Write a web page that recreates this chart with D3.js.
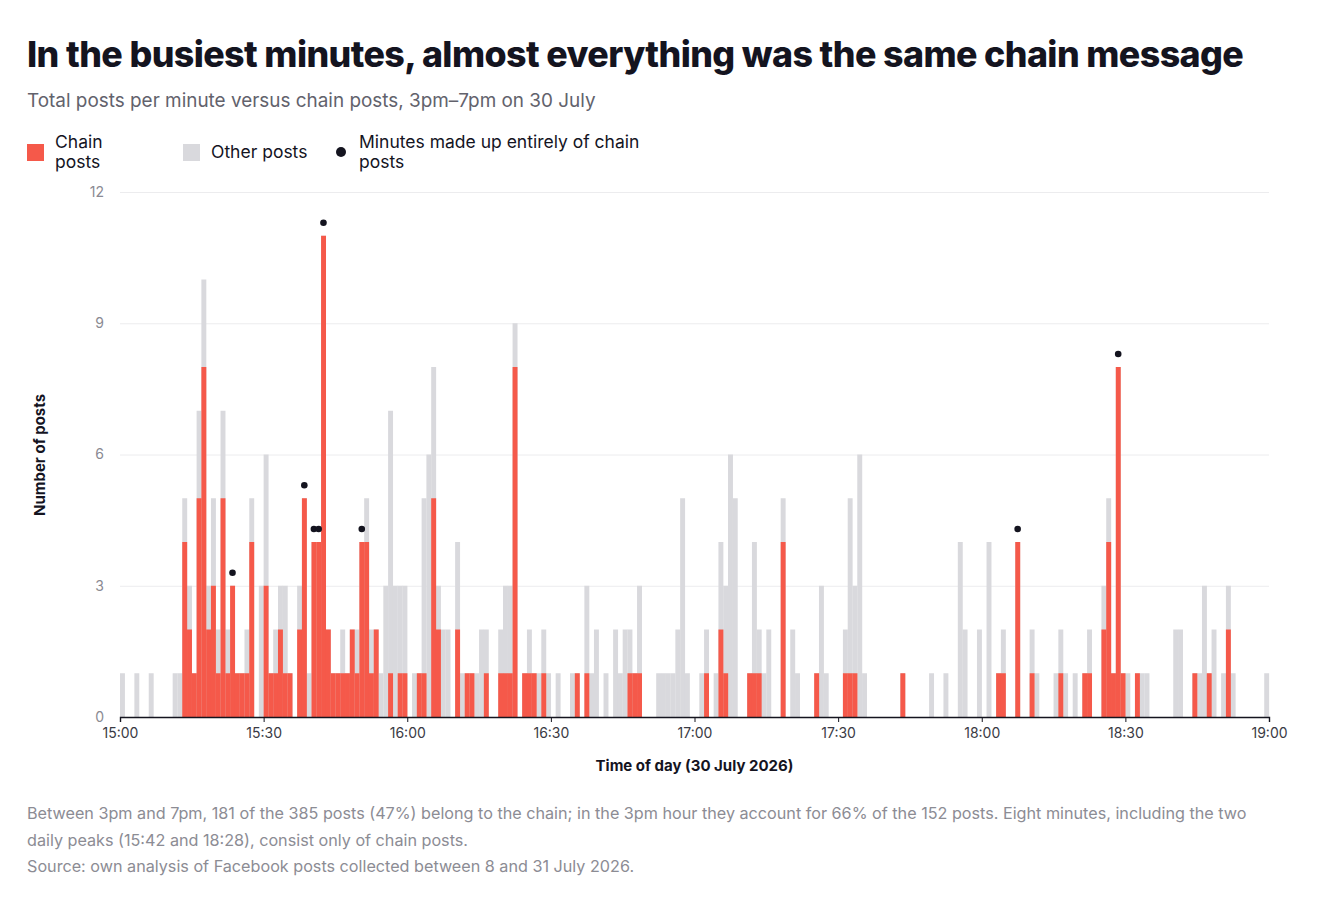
<!DOCTYPE html>
<html>
<head>
<meta charset="utf-8">
<script src="https://cdn.jsdelivr.net/npm/d3@7"></script>
<style>
  html, body { margin: 0; padding: 0; background: #fff; }
  svg { display: block; font-family: Inter, "Noto Sans", sans-serif; }
</style>
</head>
<body>
<svg id="chart" width="1318" height="898"></svg>
<script>
// one value per minute, 15:00 .. 18:59 on 30 July 2026
const START = "2026-07-30T15:00:00";
const totalPosts = [
  1, 0, 0, 1, 0, 0, 1, 0, 0, 0,   // 15:00
  0, 1, 1, 5, 3, 1, 7, 10, 3, 5,
  2, 7, 2, 3, 1, 1, 2, 5, 0, 3,
  6, 1, 2, 3, 3, 1, 0, 3, 5, 1,   // 15:30
  4, 4, 11, 2, 1, 1, 2, 1, 2, 2,
  4, 5, 2, 2, 1, 3, 7, 3, 3, 3,
  0, 1, 1, 5, 6, 8, 3, 2, 2, 0,   // 16:00
  4, 1, 1, 1, 1, 2, 2, 0, 0, 2,
  3, 3, 9, 0, 1, 2, 1, 1, 2, 1,
  0, 1, 0, 0, 1, 1, 0, 3, 1, 2,   // 16:30
  0, 1, 0, 2, 1, 2, 2, 1, 3, 0,
  0, 0, 1, 1, 1, 1, 2, 5, 1, 0,
  0, 1, 2, 0, 1, 4, 3, 6, 5, 0,   // 17:00
  0, 1, 4, 2, 1, 2, 0, 0, 5, 0,
  2, 1, 0, 0, 0, 1, 3, 1, 0, 0,
  0, 2, 5, 3, 6, 1, 0, 0, 0, 0,   // 17:30
  0, 0, 0, 1, 0, 0, 0, 0, 0, 1,
  0, 0, 1, 0, 0, 4, 2, 0, 0, 2,
  0, 4, 0, 1, 2, 0, 0, 4, 0, 0,   // 18:00
  2, 1, 0, 0, 0, 1, 2, 1, 0, 1,
  0, 1, 2, 0, 0, 3, 5, 1, 8, 1,
  1, 0, 1, 1, 1, 0, 0, 0, 0, 0,   // 18:30
  2, 2, 0, 0, 1, 1, 3, 1, 2, 0,
  1, 3, 1, 0, 0, 0, 0, 0, 0, 1
];
const chainPosts = [
  0, 0, 0, 0, 0, 0, 0, 0, 0, 0,   // 15:00
  0, 0, 0, 4, 2, 1, 5, 8, 2, 3,
  1, 5, 1, 3, 1, 1, 1, 4, 0, 0,
  3, 1, 1, 2, 1, 1, 0, 2, 5, 0,   // 15:30
  4, 4, 11, 2, 1, 1, 1, 1, 2, 1,
  4, 4, 1, 2, 0, 0, 1, 0, 1, 1,
  0, 0, 1, 1, 0, 5, 2, 0, 0, 0,   // 16:00
  2, 0, 1, 1, 0, 0, 1, 0, 0, 1,
  1, 1, 8, 0, 1, 1, 1, 0, 1, 0,
  0, 0, 0, 0, 0, 1, 0, 1, 0, 0,   // 16:30
  0, 0, 0, 0, 0, 0, 1, 1, 1, 0,
  0, 0, 0, 0, 0, 0, 0, 0, 0, 0,
  0, 0, 1, 0, 0, 2, 1, 0, 0, 0,   // 17:00
  0, 1, 1, 1, 0, 0, 0, 0, 4, 0,
  0, 0, 0, 0, 0, 1, 0, 0, 0, 0,
  0, 1, 1, 1, 0, 0, 0, 0, 0, 0,   // 17:30
  0, 0, 0, 1, 0, 0, 0, 0, 0, 0,
  0, 0, 0, 0, 0, 0, 0, 0, 0, 0,
  0, 0, 0, 1, 1, 0, 0, 4, 0, 0,   // 18:00
  1, 0, 0, 0, 0, 0, 1, 0, 0, 0,
  0, 1, 1, 0, 0, 2, 4, 1, 8, 1,
  0, 0, 1, 0, 0, 0, 0, 0, 0, 0,   // 18:30
  0, 0, 0, 0, 1, 0, 0, 1, 0, 0,
  0, 2, 0, 0, 0, 0, 0, 0, 0, 0
];
// minutes made up entirely of chain posts (marked with a dot)
const allChainMinutes = ["15:23", "15:38", "15:40", "15:41", "15:42", "15:50", "18:07", "18:28"];
const yTicks = [0, 3, 6, 9, 12];
const xTickLabels = ["15:00", "15:30", "16:00", "16:30", "17:00", "17:30", "18:00", "18:30", "19:00"];

const TITLE = "In the busiest minutes, almost everything was the same chain message";
const SUBTITLE = "Total posts per minute versus chain posts, 3pm\u20137pm on 30 July";
const NOTES = [
  "Between 3pm and 7pm, 181 of the 385 posts (47%) belong to the chain; in the 3pm hour they account for 66% of the 152 posts. Eight minutes, including the two",
  "daily peaks (15:42 and 18:28), consist only of chain posts.",
  "Source: own analysis of Facebook posts collected between 8 and 31 July 2026."
];

const RED = "#f5594a";
const GREY = "#d9d9dd";
const INK = "#14141f";

const svg = d3.select("#chart");
const start = new Date(START);
const toDate = (hm) => {
  const [h, m] = hm.split(":").map(Number);
  return new Date(2026, 6, 30, h, m);
};
const minutes = totalPosts.map((total, i) => ({
  t: d3.timeMinute.offset(start, i),
  total,
  chain: chainPosts[i]
}));

const margin = { left: 120, right: 49, top: 192, bottom: 181 };
const width = 1318, height = 898;
const x = d3.scaleTime()
  .domain([toDate("15:00"), toDate("19:00")])
  .range([margin.left, width - margin.right]);
const y = d3.scaleLinear().domain([0, 12]).range([height - margin.bottom, margin.top]);

// fit a text element to a measured width by scaling its own font size
function fitWidth(sel, target) {
  for (let k = 0; k < 3; k++) {
    const w = sel.node().getComputedTextLength();
    const fs = parseFloat(sel.attr("font-size"));
    sel.attr("font-size", (fs * target / w).toFixed(2));
  }
}

// title block
const title = svg.append("text").attr("x", 27).attr("y", 67)
  .attr("font-size", 36).attr("font-weight", 800).attr("letter-spacing", "-0.6")
  .attr("fill", INK).text(TITLE);
fitWidth(title, 1216);
const sub = svg.append("text").attr("x", 27).attr("y", 107)
  .attr("font-size", 18).attr("fill", "#62626c").text(SUBTITLE);
fitWidth(sub, 569);

// legend
const legend = svg.append("g").attr("font-size", 17.5).attr("fill", INK);
legend.append("rect").attr("x", 27).attr("y", 144).attr("width", 17).attr("height", 17).attr("fill", RED);
legend.append("text").attr("x", 55).attr("y", 148).text("Chain");
legend.append("text").attr("x", 55).attr("y", 168).text("posts");
legend.append("rect").attr("x", 183).attr("y", 144).attr("width", 17).attr("height", 17).attr("fill", GREY);
legend.append("text").attr("x", 211).attr("y", 158).text("Other posts");
legend.append("circle").attr("cx", 341).attr("cy", 152).attr("r", 5).attr("fill", INK);
legend.append("text").attr("x", 359).attr("y", 148).text("Minutes made up entirely of chain");
legend.append("text").attr("x", 359).attr("y", 168).text("posts");

// grid + y axis
const yAxis = svg.append("g")
  .attr("transform", `translate(${margin.left},0)`)
  .call(d3.axisLeft(y).tickValues(yTicks).tickSize(-(width - margin.left - margin.right)).tickPadding(16));
yAxis.select(".domain").remove();
yAxis.selectAll(".tick line").attr("stroke", "#ececee");
yAxis.selectAll(".tick text").attr("font-size", 14).attr("fill", "#8a8a92").attr("font-family", "Inter, sans-serif");

// bars
const barW = (d) => x(d3.timeMinute.offset(d.t, 1)) - x(d.t);
svg.append("g").selectAll("rect").data(minutes.filter((d) => d.total > 0)).join("rect")
  .attr("x", (d) => x(d.t)).attr("width", (d) => barW(d) + 0.15)
  .attr("y", (d) => y(d.total)).attr("height", (d) => y(0) - y(d.total))
  .attr("fill", GREY);
svg.append("g").selectAll("rect").data(minutes.filter((d) => d.chain > 0)).join("rect")
  .attr("x", (d) => x(d.t)).attr("width", (d) => barW(d) + 0.15)
  .attr("y", (d) => y(d.chain)).attr("height", (d) => y(0) - y(d.chain))
  .attr("fill", RED);

// dots for all-chain minutes
const dotData = allChainMinutes.map((hm) => minutes.find((d) => +d.t === +toDate(hm)));
svg.append("g").selectAll("circle").data(dotData).join("circle")
  .attr("cx", (d) => x(d.t) + barW(d) / 2)
  .attr("cy", (d) => y(d.total) - 13)
  .attr("r", 3.3)
  .attr("fill", INK);

// x axis
const xAxis = svg.append("g")
  .attr("transform", `translate(0,${y(0)})`)
  .call(d3.axisBottom(x)
    .tickValues(xTickLabels.map(toDate))
    .tickFormat((d, i) => xTickLabels[i])
    .tickSize(5).tickPadding(6));
xAxis.select(".domain").attr("stroke", INK).attr("stroke-width", 1.4);
xAxis.selectAll(".tick line").attr("stroke", INK);
xAxis.selectAll(".tick text").attr("font-size", 14).attr("fill", "#3a3a44").attr("font-family", "Inter, sans-serif");

// axis titles
svg.append("text").attr("x", (margin.left + width - margin.right) / 2).attr("y", 771)
  .attr("text-anchor", "middle").attr("font-size", 15).attr("font-weight", 700).attr("fill", INK)
  .text("Time of day (30 July 2026)");
svg.append("text").attr("transform", "translate(45,455) rotate(-90)")
  .attr("text-anchor", "middle").attr("font-size", 15).attr("font-weight", 700).attr("fill", INK)
  .text("Number of posts");

// notes
const notes = svg.append("g").attr("fill", "#8c8c94");
const note0 = notes.append("text").attr("x", 27).attr("y", 819).attr("font-size", 16).text(NOTES[0]);
fitWidth(note0, 1220);
const fs = note0.attr("font-size");
notes.append("text").attr("x", 27).attr("y", 846).attr("font-size", fs).text(NOTES[1]);
notes.append("text").attr("x", 27).attr("y", 872).attr("font-size", fs).text(NOTES[2]);
</script>
</body>
</html>
